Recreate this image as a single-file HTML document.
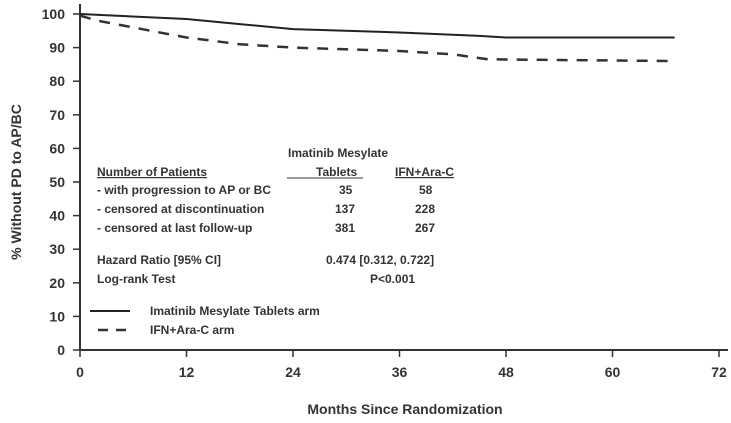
<!DOCTYPE html>
<html><head><meta charset="utf-8"><style>
body{margin:0;background:#fff;}
svg{display:block;font-family:"Liberation Sans Narrow","Liberation Sans",sans-serif;}
text{fill:#333;}
</style></head><body>
<svg id="chart" width="731" height="423">
<g id="axes"></g><g id="series"></g>
<g font-size="12" font-weight="bold">
<text x="97" y="176" text-decoration="underline">Number of Patients</text>
<text x="288" y="157">Imatinib Mesylate</text>
<text x="316" y="176">Tablets</text>
<line x1="287" y1="178" x2="363" y2="178" stroke="#333" stroke-width="1"/>
<text x="395" y="176" text-decoration="underline">IFN+Ara-C</text>
<text x="97" y="194">- with progression to AP or BC</text>
<text x="339" y="194">35</text><text x="419" y="194">58</text>
<text x="97" y="213">- censored at discontinuation</text>
<text x="335" y="213">137</text><text x="415" y="213">228</text>
<text x="97" y="232">- censored at last follow-up</text>
<text x="335" y="232">381</text><text x="415" y="232">267</text>
<text x="97" y="264">Hazard Ratio [95% CI]</text>
<text x="326" y="264">0.474 [0.312, 0.722]</text>
<text x="97" y="283">Log-rank Test</text>
<text x="370" y="283">P&lt;0.001</text>
</g>
<g font-size="12" font-weight="bold">
<line x1="90" y1="311" x2="130" y2="311" stroke="#222" stroke-width="2"/>
<text x="150" y="315">Imatinib Mesylate Tablets arm</text>
<line x1="98" y1="330" x2="130" y2="330" stroke="#333" stroke-width="2.5" stroke-dasharray="10,8"/>
<text x="150" y="334">IFN+Ara-C arm</text>
</g>
<text x="405" y="414" text-anchor="middle" font-size="14" font-weight="bold">Months Since Randomization</text>
<text transform="translate(21,182) rotate(-90)" text-anchor="middle" font-size="14" font-weight="bold">% Without PD to AP/BC</text>
</svg>
<script>
const xTicks=[0,12,24,36,48,60,72];
const yTicks=[0,10,20,30,40,50,60,70,80,90,100];
const imatMonths=[0,12,18,24,36,45,48,67];
const imatValues=[100,98.5,97,95.5,94.5,93.5,93,93];
const ifnMonths=[0,2,6,12,18,24,36,42,46,67];
const ifnValues=[99.5,98,96,93,91,90,89,88,86.5,86];
const X=m=>80+m*8.875, Y=v=>350-v*3.36;
const NS="http://www.w3.org/2000/svg";
const ax=document.getElementById('axes'), se=document.getElementById('series');
function mk(tag,attrs,parent){const e=document.createElementNS(NS,tag);for(const k in attrs)e.setAttribute(k,attrs[k]);parent.appendChild(e);return e;}
let a=mk('line',{x1:X(0),y1:4,x2:X(0),y2:Y(0)+1,stroke:'#333','stroke-width':2},ax);


a=mk('line',{x1:X(0)-1,y1:Y(0),x2:728,y2:Y(0),stroke:'#333','stroke-width':2},ax);


xTicks.forEach(t=>{mk('line',{x1:X(t),y1:Y(0),x2:X(t),y2:Y(0)+7,stroke:'#333','stroke-width':1.5},ax);
const tx=mk('text',{x:X(t),y:377,'text-anchor':'middle','font-size':14,'font-weight':'bold'},ax);tx.textContent=t;

});
yTicks.forEach(t=>{mk('line',{x1:X(0)-7,y1:Y(t),x2:X(0),y2:Y(t),stroke:'#333','stroke-width':1.5},ax);
const tx=mk('text',{x:65,y:Y(t)+5,'text-anchor':'end','font-size':14,'font-weight':'bold'},ax);tx.textContent=t;

});
function path(ms,vs){return ms.map((m,i)=>(i?'L':'M')+X(m)+','+Y(vs[i])).join('');}
let p=mk('path',{d:path(imatMonths,imatValues),fill:'none',stroke:'#222','stroke-width':2},se);


p=mk('path',{d:path(ifnMonths,ifnValues),fill:'none',stroke:'#333','stroke-width':2.5,'stroke-dasharray':'11,9'},se);


</script>
</body></html>
